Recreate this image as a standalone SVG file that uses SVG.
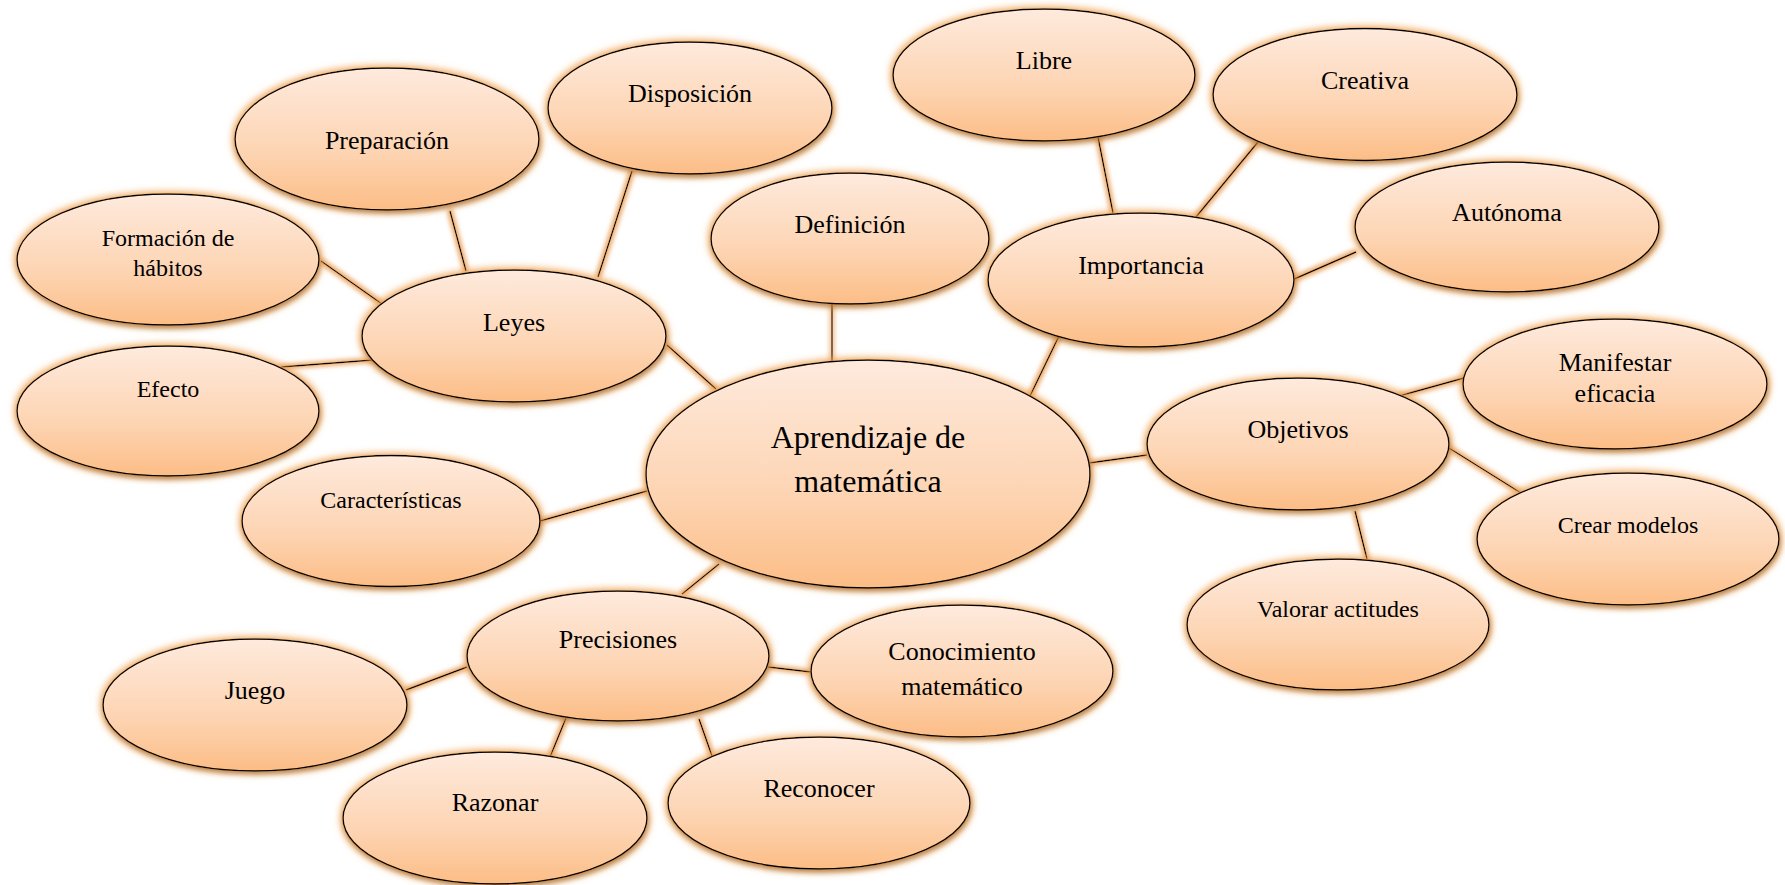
<svg xmlns="http://www.w3.org/2000/svg" width="1785" height="885" viewBox="0 0 1785 885">
  <defs>
    <linearGradient id="peach" x1="0" y1="0" x2="0" y2="1">
      <stop offset="0" stop-color="#feeadd"/>
      <stop offset="0.6" stop-color="#fdd4b2"/>
      <stop offset="1" stop-color="#fcbd86"/>
    </linearGradient>
    <!-- soft orange halo plus a faint brown shadow under each bubble -->
    <filter id="glow" x="-15%" y="-20%" width="130%" height="145%">
      <feMorphology in="SourceAlpha" operator="dilate" radius="2" result="grown"/>
      <feGaussianBlur in="grown" stdDeviation="3.5" result="blur"/>
      <feFlood flood-color="#f0a150" flood-opacity="0.85"/>
      <feComposite in2="blur" operator="in" result="halo"/>
      <feGaussianBlur in="SourceAlpha" stdDeviation="2.5" result="sblur"/>
      <feOffset in="sblur" dx="1" dy="3" result="soff"/>
      <feFlood flood-color="#7a4a1e" flood-opacity="0.55"/>
      <feComposite in2="soff" operator="in" result="shadow"/>
      <feMerge>
        <feMergeNode in="halo"/>
        <feMergeNode in="shadow"/>
        <feMergeNode in="SourceGraphic"/>
      </feMerge>
    </filter>
    <filter id="lineglow" x="0" y="0" width="1785" height="885" filterUnits="userSpaceOnUse">
      <feMorphology in="SourceAlpha" operator="dilate" radius="1.5" result="grown"/>
      <feGaussianBlur in="grown" stdDeviation="2.2" result="blur"/>
      <feFlood flood-color="#eba460" flood-opacity="0.9"/>
      <feComposite in2="blur" operator="in" result="halo"/>
      <feMerge>
        <feMergeNode in="halo"/>
        <feMergeNode in="SourceGraphic"/>
      </feMerge>
    </filter>
    <style>
      .node ellipse { fill: url(#peach); stroke: #000; stroke-width: 1.4; filter: url(#glow); }
      .node text { font-family: "Liberation Serif", "Times New Roman", serif; fill: #000; text-anchor: middle; font-size: 26px; }
      .node text.s { font-size: 24px; }
      .node text.big { font-size: 32px; }
      #connectors line { stroke: #000; stroke-width: 1.4; }
    </style>
  </defs>

  <g id="connectors" filter="url(#lineglow)">
    <line x1="450" y1="211" x2="466" y2="271"/>
    <line x1="321" y1="261" x2="382" y2="304"/>
    <line x1="281" y1="367" x2="373" y2="360"/>
    <line x1="632" y1="171" x2="598" y2="277"/>
    <line x1="667" y1="345" x2="716" y2="389"/>
    <line x1="832" y1="304" x2="832" y2="361"/>
    <line x1="1098" y1="137" x2="1113" y2="213"/>
    <line x1="1059" y1="336" x2="1030" y2="396"/>
    <line x1="1258" y1="142" x2="1196" y2="217"/>
    <line x1="1292" y1="280" x2="1356" y2="252"/>
    <line x1="1399" y1="396" x2="1464" y2="378"/>
    <line x1="1089" y1="463" x2="1147" y2="455"/>
    <line x1="1449" y1="448" x2="1521" y2="493"/>
    <line x1="1355" y1="511" x2="1367" y2="559"/>
    <line x1="540" y1="521" x2="647" y2="491"/>
    <line x1="719" y1="564" x2="682" y2="594"/>
    <line x1="406" y1="690" x2="467" y2="667"/>
    <line x1="566" y1="718" x2="550" y2="757"/>
    <line x1="768" y1="667" x2="811" y2="672"/>
    <line x1="699" y1="719" x2="712" y2="756"/>
  </g>

  <g id="n-aprendizaje" class="node">
    <ellipse cx="868" cy="474" rx="222" ry="114"/>
    <text class="big" x="868" y="448">Aprendizaje de</text>
    <text class="big" x="868" y="492">matemática</text>
  </g>
  <g id="n-preparacion" class="node">
    <ellipse cx="387" cy="139" rx="152" ry="71"/>
    <text x="387" y="149">Preparación</text>
  </g>
  <g id="n-disposicion" class="node">
    <ellipse cx="690" cy="108" rx="142" ry="66"/>
    <text x="690" y="102">Disposición</text>
  </g>
  <g id="n-formacion" class="node">
    <ellipse cx="168" cy="259.5" rx="151" ry="65.5"/>
    <text class="s" x="168" y="246">Formación de</text>
    <text class="s" x="168" y="276">hábitos</text>
  </g>
  <g id="n-leyes" class="node">
    <ellipse cx="514" cy="336" rx="152" ry="66"/>
    <text x="514" y="331">Leyes</text>
  </g>
  <g id="n-efecto" class="node">
    <ellipse cx="168" cy="411" rx="151" ry="65"/>
    <text class="s" x="168" y="397">Efecto</text>
  </g>
  <g id="n-definicion" class="node">
    <ellipse cx="850" cy="238.5" rx="139" ry="65.5"/>
    <text x="850" y="233">Definición</text>
  </g>
  <g id="n-libre" class="node">
    <ellipse cx="1044" cy="75" rx="151" ry="66"/>
    <text x="1044" y="69">Libre</text>
  </g>
  <g id="n-creativa" class="node">
    <ellipse cx="1365" cy="94.5" rx="152" ry="66"/>
    <text x="1365" y="89">Creativa</text>
  </g>
  <g id="n-importancia" class="node">
    <ellipse cx="1141" cy="280" rx="153" ry="67"/>
    <text x="1141" y="274">Importancia</text>
  </g>
  <g id="n-autonoma" class="node">
    <ellipse cx="1507" cy="227" rx="152" ry="65"/>
    <text x="1507" y="221">Autónoma</text>
  </g>
  <g id="n-manifestar" class="node">
    <ellipse cx="1615" cy="384" rx="152" ry="65"/>
    <text x="1615" y="371">Manifestar</text>
    <text x="1615" y="402">eficacia</text>
  </g>
  <g id="n-objetivos" class="node">
    <ellipse cx="1298" cy="444" rx="151" ry="66"/>
    <text x="1298" y="438">Objetivos</text>
  </g>
  <g id="n-crear" class="node">
    <ellipse cx="1628" cy="539" rx="151" ry="66"/>
    <text class="s" x="1628" y="533">Crear modelos</text>
  </g>
  <g id="n-valorar" class="node">
    <ellipse cx="1338" cy="624.5" rx="151" ry="65.5"/>
    <text class="s" x="1338" y="617">Valorar actitudes</text>
  </g>
  <g id="n-caracteristicas" class="node">
    <ellipse cx="391" cy="521" rx="149" ry="65.5"/>
    <text class="s" x="391" y="508">Características</text>
  </g>
  <g id="n-precisiones" class="node">
    <ellipse cx="618" cy="656" rx="151" ry="65"/>
    <text x="618" y="648">Precisiones</text>
  </g>
  <g id="n-juego" class="node">
    <ellipse cx="255" cy="705" rx="152" ry="66"/>
    <text x="255" y="699">Juego</text>
  </g>
  <g id="n-conocimiento" class="node">
    <ellipse cx="962" cy="671" rx="151" ry="66"/>
    <text x="962" y="660">Conocimiento</text>
    <text x="962" y="695">matemático</text>
  </g>
  <g id="n-razonar" class="node">
    <ellipse cx="495" cy="818" rx="152" ry="66"/>
    <text x="495" y="811">Razonar</text>
  </g>
  <g id="n-reconocer" class="node">
    <ellipse cx="819" cy="803" rx="151" ry="66"/>
    <text x="819" y="797">Reconocer</text>
  </g>
</svg>
